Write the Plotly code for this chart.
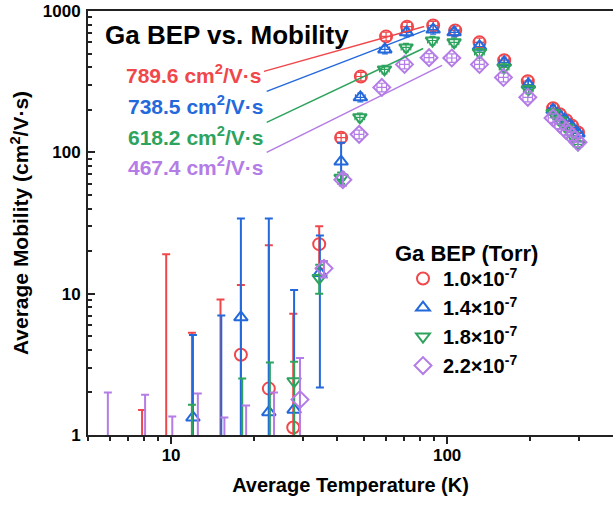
import numpy as np
import plotly.graph_objects as go

# ---------------- data ----------------
series_names = ["1.0×10<sup>-7</sup>", "1.4×10<sup>-7</sup>", "1.8×10<sup>-7</sup>", "2.2×10<sup>-7</sup>"]

# Ga BEP 1.0e-7 Torr (red circles)
red_T = [41.3, 48.7, 60.1, 71.6, 89.0, 107, 131, 161, 196, 242, 256, 270, 284, 298]
red_mu = [127, 344, 661, 775, 789.6, 729, 600, 449, 319, 205, 186, 169, 154, 138]
red_lo_T = [7.85, 9.6, 11.9, 15.1, 17.9, 22.6, 27.7, 34.4]
red_lo_mu = [0.6, 0.6, 0.6, 0.6, 3.7, 2.13, 1.13, 22.4]
red_lo_top = [1.5, 19, 5.3, 9.1, 11.5, 22, 7.2, 30]
red_lo_bot = [0.05, 0.05, 0.05, 0.05, 0.05, 0.05, 0.05, 15]

# Ga BEP 1.4e-7 Torr (blue up-triangles)
blue_T = [48.5, 59.5, 71.3, 89.0, 106, 131, 161, 197, 242, 256, 270, 284, 298]
blue_mu = [245, 535, 706, 738.5, 706, 561, 433, 302, 200, 182, 166, 150, 136]
blue_lo_T = [12.0, 15.2, 17.9, 22.6, 27.9, 34.6, 41.3]
blue_lo_mu = [1.33, 0.6, 6.8, 1.45, 1.51, 14, 86]
blue_lo_top = [5.1, 7.0, 34, 34, 10.6, 25.8, 117]
blue_lo_bot = [0.05, 0.05, 0.05, 0.05, 0.05, 2.17, 64]

# Ga BEP 1.8e-7 Torr (green down-triangles)
green_T = [48.3, 59.3, 71.0, 88.5, 106, 131, 161, 197, 242, 256, 270, 284, 298]
green_mu = [177, 386, 552, 618.2, 600, 509, 399, 279, 190, 168, 150, 132, 114]
green_lo_T = [11.9, 18.1, 22.8, 27.9, 34.4, 41.3]
green_lo_mu = [0.6, 0.6, 0.6, 2.4, 12.9, 66]
green_lo_top = [1.64, 2.51, 3.26, 3.3, 16, 72]
green_lo_bot = [0.05, 0.05, 0.05, 0.05, 10, 60]

# Ga BEP 2.2e-7 Torr (purple diamonds)
purple_T = [48.0, 58.0, 70.1, 86.0, 104, 131, 160, 196, 242, 256, 270, 284, 298]
purple_mu = [134, 288, 419, 467.4, 465, 419, 339, 245, 175, 158, 143, 130, 118]
purple_lo_T = [5.9, 8.05, 10.1, 12.5, 15.6, 18.7, 23.6, 29.3, 35.8, 41.9]
purple_lo_mu = [0.6, 0.6, 0.6, 0.6, 0.6, 0.6, 0.6, 1.78, 15.1, 64]
purple_lo_top = [2.0, 1.93, 1.35, 1.97, 1.33, 1.62, 2.0, 3.5, 17, 70]
purple_lo_bot = [0.05, 0.05, 0.05, 0.05, 0.05, 0.05, 0.05, 0.05, 13, 58]

x_tick_vals = [10, 100]
x_tick_text = ["10", "100"]
x_minor_vals = [5, 6, 7, 8, 9, 20, 30, 40, 50, 60, 70, 80, 90, 200, 300]
y_tick_vals = [1, 10, 100, 1000]
y_tick_text = ["1", "10", "100", "1000"]
y_minor_vals = [m * d for d in (1, 10, 100) for m in range(2, 10)]

# ---------------- styling ----------------
colors = ["#F0474A", "#2469DB", "#2DA35E", "#B47CE6"]
symbols = ["circle-open", "triangle-up-open", "triangle-down-open", "diamond-open"]
sizes = [12, 12, 12, 13]
FONT = "Liberation Sans"

all_series = [
    (red_T, red_mu, red_lo_T, red_lo_mu, red_lo_top, red_lo_bot),
    (blue_T, blue_mu, blue_lo_T, blue_lo_mu, blue_lo_top, blue_lo_bot),
    (green_T, green_mu, green_lo_T, green_lo_mu, green_lo_top, green_lo_bot),
    (purple_T, purple_mu, purple_lo_T, purple_lo_mu, purple_lo_top, purple_lo_bot),
]

fig = go.Figure()
for i, (T, mu, lT, lmu, ltop, lbot) in enumerate(all_series):
    c = colors[i]
    mk = dict(symbol=symbols[i], size=sizes[i], color=c, line=dict(width=2, color=c))
    err_up = [t - m for t, m in zip(ltop, lmu)]
    err_dn = [m - b for m, b in zip(lmu, lbot)]
    fig.add_trace(go.Scatter(
        x=lT, y=lmu, mode="markers", marker=mk, showlegend=False, hoverinfo="skip",
        error_y=dict(type="data", symmetric=False, array=err_up, arrayminus=err_dn,
                     color=c, thickness=2, width=4),
    ))
    fig.add_trace(go.Scatter(
        x=T, y=mu, mode="markers", marker=mk, name=series_names[i], showlegend=True,
        error_y=dict(type="percent", value=7, color=c, thickness=1.2, width=3),
        error_x=dict(type="percent", value=4, color=c, thickness=1.2, width=3),
    ))

# ---------------- annotations ----------------
peaks = [max(red_mu), max(blue_mu), max(green_mu), max(purple_mu)]
label_text_x = [21.5, 21.8, 21.8, 21.8]
label_text_y = [361, 218, 129.5, 79.5]
line_x0 = [21.7, 22.2, 22.2, 22.2]
line_y0 = [374, 270, 163, 100]
line_x1 = [82.6, 83.3, 81.9, 95.9]
line_y1 = [778, 729, 543, 412]

annotations = []
shapes = []
for i in range(4):
    annotations.append(dict(
        x=np.log10(label_text_x[i]), y=np.log10(label_text_y[i]), xref="x", yref="y",
        text=f"<b>{peaks[i]:.1f} cm<sup>2</sup>/V·s</b>", showarrow=False,
        xanchor="right", yanchor="middle", font=dict(family=FONT, size=21, color=colors[i]),
    ))
    shapes.append(dict(type="line", xref="x", yref="y", x0=line_x0[i], y0=line_y0[i],
                       x1=line_x1[i], y1=line_y1[i], line=dict(color=colors[i], width=1.5)))

annotations.append(dict(
    x=0.0286, y=0.943, xref="paper", yref="paper", text="<b>Ga BEP vs. Mobility</b>",
    showarrow=False, xanchor="left", yanchor="middle", font=dict(family=FONT, size=26, color="black"),
))
annotations.append(dict(
    x=0.581, y=0.429, xref="paper", yref="paper", text="<b>Ga BEP (Torr)</b>",
    showarrow=False, xanchor="left", yanchor="middle", font=dict(family=FONT, size=22, color="black"),
))

axis_col = "#222222"
fig.update_layout(
    template="none",
    width=613, height=508,
    margin=dict(l=88, r=0, t=11, b=73, autoexpand=False),
    paper_bgcolor="white", plot_bgcolor="white",
    font=dict(family=FONT, color="black", size=17),
    showlegend=True,
    legend=dict(x=0.6, y=0.415, xanchor="left", yanchor="top", bgcolor="rgba(0,0,0,0)",
                borderwidth=0,
                font=dict(family=FONT, size=20, weight="bold", color="black"),
                traceorder="normal"),
    annotations=annotations, shapes=shapes,
    xaxis=dict(
        type="log", range=[np.log10(5), np.log10(399)], automargin=False,
        showline=True, linecolor=axis_col, linewidth=2, mirror=True,
        ticks="outside", ticklen=7, tickwidth=1.5, tickcolor=axis_col,
        tickvals=x_tick_vals, ticktext=x_tick_text, ticklabelstandoff=-3,
        tickfont=dict(family=FONT, size=17, weight="bold", color="black"),
        minor=dict(tickvals=x_minor_vals, ticks="outside", ticklen=4, tickwidth=1.5,
                   tickcolor=axis_col, showgrid=False),
        showgrid=False, zeroline=False,
        title=dict(text="<b>Average Temperature (K)</b>", standoff=14,
                   font=dict(family=FONT, size=20, color="black")),
    ),
    yaxis=dict(
        type="log", range=[0, 3], automargin=False,
        showline=True, linecolor=axis_col, linewidth=2, mirror=False,
        ticks="inside", ticklen=7, tickwidth=1.5, tickcolor=axis_col,
        tickvals=y_tick_vals, ticktext=y_tick_text, ticklabelstandoff=2,
        ticklabeloverflow="allow",
        tickfont=dict(family=FONT, size=17, weight="bold", color="black"),
        minor=dict(tickvals=y_minor_vals, ticks="inside", ticklen=4, tickwidth=1.5,
                   tickcolor=axis_col, showgrid=False),
        showgrid=False, zeroline=False,
        title=dict(text="<b>Average Mobility (cm<sup>2</sup>/V·s)</b>", standoff=8,
                   font=dict(family=FONT, size=21, color="black")),
    ),
)

# remove the default 8 px page margin so the 613x508 figure fills the window exactly
fig.write_html("out.html", config={"displayModeBar": False},
               post_script="document.body.style.margin='0px';")
